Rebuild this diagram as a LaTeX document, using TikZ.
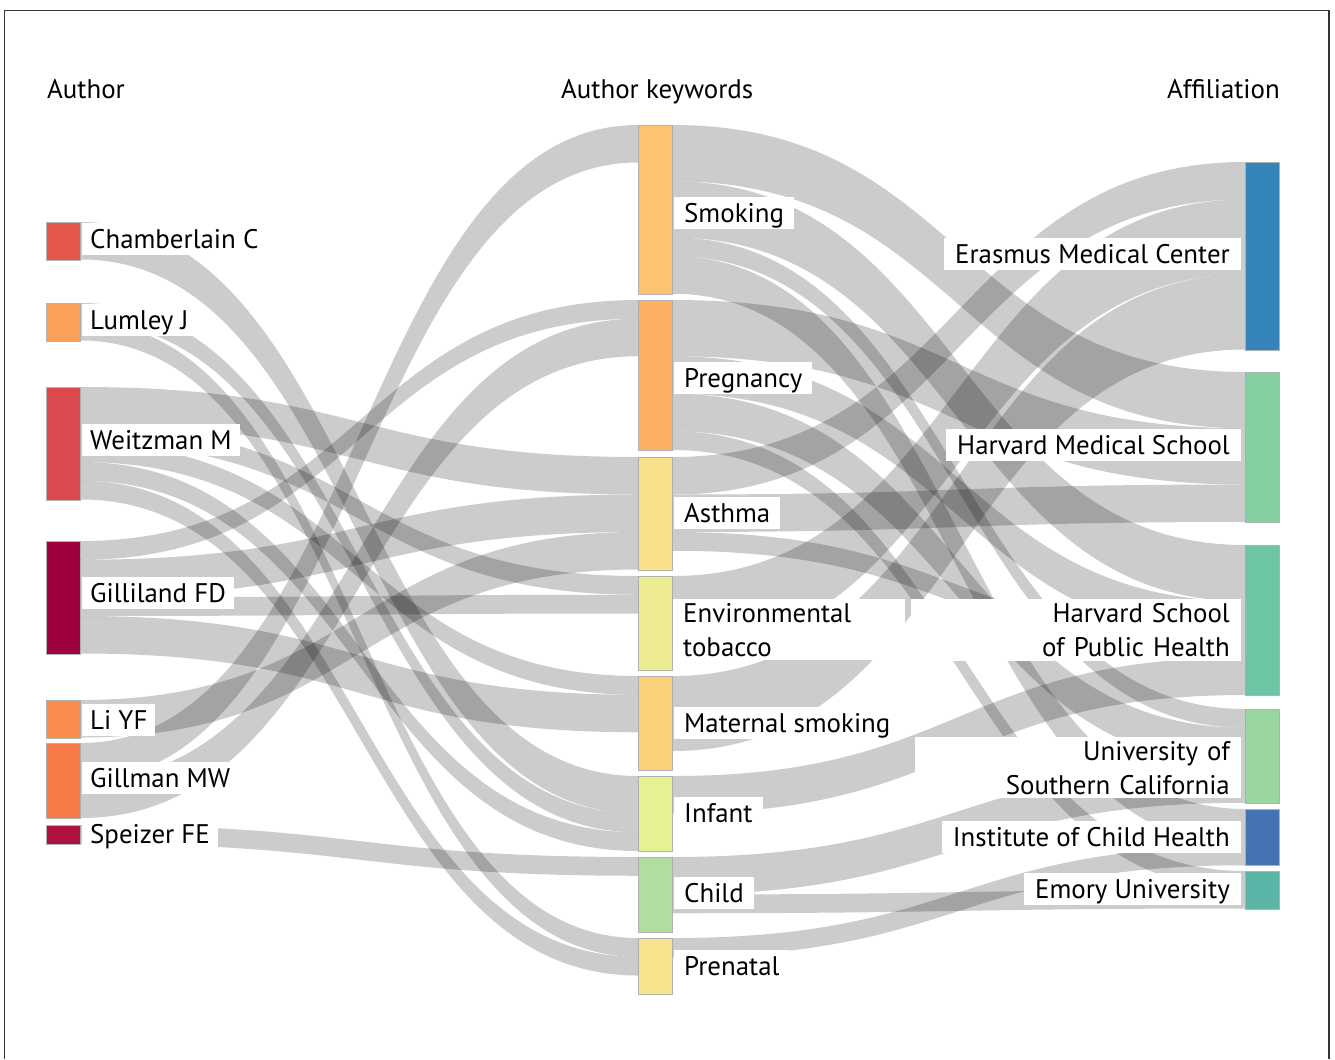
\documentclass[tikz,border=0pt]{standalone}
\usepackage{fontspec}
\setmainfont{PT Sans}
\usetikzlibrary{calc}

% bar colours
\definecolor{cCham}{HTML}{E5574A}
\definecolor{cLum}{HTML}{F9A05A}
\definecolor{cWei}{HTML}{DC4A50}
\definecolor{cGil}{HTML}{9E0040}
\definecolor{cLi}{HTML}{F98C4F}
\definecolor{cGm}{HTML}{F47A47}
\definecolor{cSp}{HTML}{B0123F}
\definecolor{cSmok}{HTML}{FDC372}
\definecolor{cPreg}{HTML}{FBB062}
\definecolor{cAsth}{HTML}{FAE08B}
\definecolor{cEnv}{HTML}{EDEC93}
\definecolor{cMat}{HTML}{FBD07B}
\definecolor{cInf}{HTML}{E5F193}
\definecolor{cChild}{HTML}{B1DDA0}
\definecolor{cPren}{HTML}{F5E48D}
\definecolor{cEras}{HTML}{3584BC}
\definecolor{cHms}{HTML}{85CFA3}
\definecolor{cHsph}{HTML}{6CC6A4}
\definecolor{cUsc}{HTML}{9AD69F}
\definecolor{cIch}{HTML}{4571B5}
\definecolor{cEmory}{HTML}{5BB5A6}

\newcommand{\flowunit}{18.75}

\tikzset{
  bar/.style={draw=black!30, line width=0.8bp, minimum width=34bp, inner sep=0pt, anchor=north west},
  units/.style={minimum height=#1*18.75bp},
  flow/.style={fill=black, fill opacity=0.2},
  lbl/.style={fill=white, inner xsep=8bp, inner ysep=4bp, text height=21bp, text depth=3bp,
    font=\fontsize{27}{34}\selectfont},
  mlbl/.style={lbl, inner xsep=10bp},
  rlbl/.style={lbl, inner xsep=11bp},
  head/.style={inner sep=0pt, font=\fontsize{27}{34}\selectfont}
}

% band from #1 (offset #2 units) to #3 (offset #4 units), #5 units wide
\newcommand{\band}[5]{%
  \path (#1.north east) ++(0,#2*\flowunit) coordinate (p1) ++(0,#5*\flowunit) coordinate (p2)
        (#3.north west) ++(0,#4*\flowunit) coordinate (q1) ++(0,#5*\flowunit) coordinate (q2)
        ($(p1)!0.5!(q1)$) coordinate (m);
  \fill[flow] (p1) .. controls (m |- p1) and (m |- q1) .. (q1) -- (q2)
    .. controls (m |- q2) and (m |- p2) .. (p2) -- cycle;}

\begin{document}
\begin{tikzpicture}[x=1bp, y=-1bp]
  \useasboundingbox (0,0) rectangle (1335,1059);
  \draw[black!80, line width=1.5bp] (4.5,1059) -- (4.5,10.5) -- (1329,10.5) -- (1329,1059);

  % Nodes
  \node[bar, units=2, fill=cCham] (ch) at (46,222) {};
  \node[bar, units=2, fill=cLum] (lu) at (46,303) {};
  \node[bar, units=6, fill=cWei] (wei) at (46,387) {};
  \node[bar, units=6, fill=cGil] (gil) at (46,541) {};
  \node[bar, units=2, fill=cLi] (li) at (46,700) {};
  \node[bar, units=4, fill=cGm] (gm) at (46,743) {};
  \node[bar, units=1, fill=cSp] (sp) at (46,825) {};

  \node[bar, units=9, fill=cSmok] (smok) at (638,125) {};
  \node[bar, units=8, fill=cPreg] (preg) at (638,300) {};
  \node[bar, units=6, fill=cAsth] (asth) at (638,457) {};
  \node[bar, units=5, fill=cEnv] (env) at (638,576) {};
  \node[bar, units=5, fill=cMat] (mat) at (638,676) {};
  \node[bar, units=4, fill=cInf] (inf) at (638,776) {};
  \node[bar, units=4, fill=cChild] (child) at (638,857) {};
  \node[bar, units=3, fill=cPren] (pren) at (638,938) {};

  \node[bar, units=10, fill=cEras] (eras) at (1245,162) {};
  \node[bar, units=8, fill=cHms] (hms) at (1245,372) {};
  \node[bar, units=8, fill=cHsph] (hsph) at (1245,545) {};
  \node[bar, units=5, fill=cUsc] (usc) at (1245,709) {};
  \node[bar, units=3, fill=cIch] (ich) at (1245,809) {};
  \node[bar, units=2, fill=cEmory] (emory) at (1245,871) {};

  % Bands: author -> keyword
  \band{ch}{0}{inf}{0}{2}
  \band{lu}{0}{inf}{2}{1}
  \band{lu}{1}{pren}{0}{1}
  \band{wei}{0}{asth}{0}{2}
  \band{wei}{2}{env}{0}{1}
  \band{wei}{3}{mat}{0}{1}
  \band{wei}{4}{inf}{3}{1}
  \band{wei}{5}{pren}{1}{1}
  \band{gil}{0}{preg}{0}{1}
  \band{gil}{1}{asth}{2}{2}
  \band{gil}{3}{env}{1}{1}
  \band{gil}{4}{mat}{1}{2}
  \band{li}{0}{asth}{4}{2}
  \band{gm}{0}{smok}{0}{2}
  \band{gm}{2}{preg}{1}{2}
  \band{sp}{0}{child}{0}{1}

  % Bands: keyword -> affiliation
  \band{smok}{0}{hms}{0}{3}
  \band{smok}{3}{hsph}{0}{3}
  \band{smok}{6}{usc}{0}{1}
  \band{smok}{7}{ich}{0}{2}
  \band{preg}{0}{hms}{3}{3}
  \band{preg}{3}{hsph}{3}{2}
  \band{preg}{5}{usc}{1}{2}
  \band{preg}{7}{emory}{0}{1}
  \band{asth}{0}{eras}{0}{2}
  \band{asth}{2}{hms}{6}{2}
  \band{asth}{4}{hsph}{5}{1}
  \band{env}{0}{eras}{2}{4}
  \band{mat}{0}{eras}{6}{4}
  \band{inf}{0}{hsph}{6}{2}
  \band{child}{0}{usc}{3}{2}
  \band{child}{2}{emory}{1}{1}
  \band{pren}{0}{ich}{2}{1}

  % Labels
  \node[head, anchor=base west] (hauthor) at (47,98) {Author};
  \node[head, anchor=base west] (hkey) at (561,98) {Author keywords};
  \node[head, anchor=base east] (haff) at (1280,98) {Affiliation};

  \node[lbl, anchor=base west] (lch) at (82,248) {Chamberlain C};
  \node[lbl, anchor=base west] (llu) at (82,329) {Lumley J};
  \node[lbl, anchor=base west] (lwei) at (82,449) {Weitzman M};
  \node[lbl, anchor=base west] (lgil) at (82,602) {Gilliland FD};
  \node[lbl, anchor=base west] (lli) at (82,729) {Li YF};
  \node[lbl, anchor=base west] (lgm) at (82,787) {Gillman MW};
  \node[lbl, anchor=base west] (lsp) at (82,843) {Speizer FE};

  \node[mlbl, anchor=base west] (lsmok) at (674,222) {Smoking};
  \node[mlbl, anchor=base west] (lpreg) at (674,387) {Pregnancy};
  \node[mlbl, anchor=base west] (lasth) at (674,522) {Asthma};
  \node[mlbl, anchor=north west, text height=, text depth=, text width=212bp, align=left] (lenv) at (673,599) {Environmental\\tobacco};
  \node[mlbl, anchor=base west] (lmat) at (674,732) {Maternal smoking};
  \node[mlbl, anchor=base west] (linf) at (674,822) {Infant};
  \node[mlbl, anchor=base west] (lchild) at (674,902) {Child};
  \node[mlbl, anchor=base west] (lpren) at (674,975) {Prenatal};

  \node[rlbl, anchor=base east] (leras) at (1241,263) {Erasmus Medical Center};
  \node[rlbl, anchor=base east] (lhms) at (1241,454) {Harvard Medical School};
  \node[rlbl, anchor=north east, text height=, text depth=, text width=308bp, align=right] (lhsph) at (1241,599) {Harvard School\hspace*{7bp}\\of Public Health};
  \node[rlbl, anchor=north east, text height=, text depth=, text width=304bp, align=right] (lusc) at (1241,737) {University of\hspace*{5bp}\\Southern California};
  \node[rlbl, anchor=base east] (lich) at (1241,846) {Institute of Child Health};
  \node[rlbl, anchor=base east] (lemory) at (1241,898) {Emory University};
\end{tikzpicture}
\end{document}
